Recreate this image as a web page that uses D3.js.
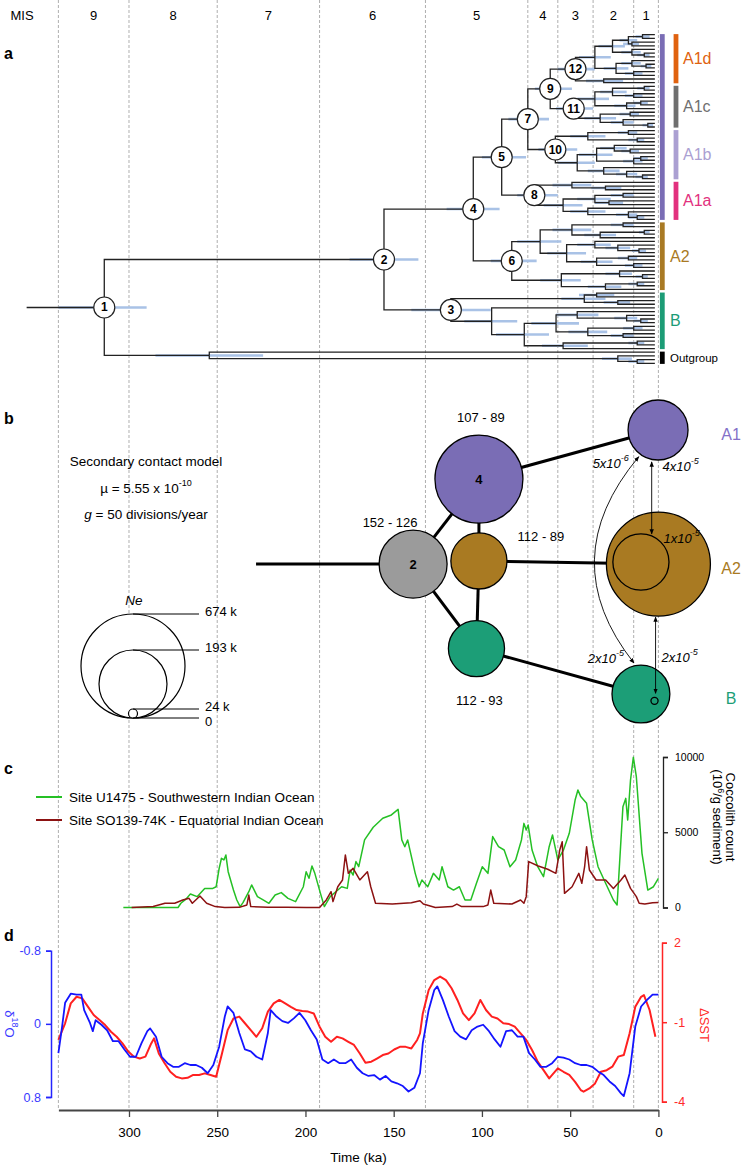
<!DOCTYPE html>
<html lang="en">
<head>
<meta charset="utf-8">
<title>Phylogeny, demography and Indian Ocean records</title>
<script src="https://d3js.org/d3.v7.min.js"></script>
<style>
  body, html { margin: 0; padding: 0; background: #fff; }
  svg text { font-family: "Liberation Sans", Arial, sans-serif; }
</style>
</head>
<body>
<script>
// ---------- data ----------
var misNames = ["9", "8", "7", "6", "5", "4", "3", "2", "1"]
var misBounds = [340, 300, 250, 192, 132, 74, 57, 37, 14, 0]

// dated tree, "t" = tip, (children)age[hpdOld-hpdYoung]#nodeNumber
var tipAge = 2
var rootAge = 358
var cladeA1d = "(((((t,t)9[13-5],(t,t)15[20-11])17[22-12],(t,(t,t)8[12-5])15[21-10])26[34-19],((t,(t,t)7[10-4])15[21-10],(t,t)14[19-9])24[31-17])36[45-27],(t,t)31[41-20])47[57-36]#12"
var cladeA1c = "((((t,t)8[12-5],(t,t)14[19-9])26[33-18],((t,t)10[14-6],t)18[25-13])36[46-28],((t,t)16[22-11],(t,(t,t)6[9-3])20[27-14])33[42-24])48[58-37]#11"
var cladeA1b = "(((t,t)17[23-12],(t,t)12[17-8])40[50-30],(((t,(t,t)16[21-11])25[33-18],((t,t)10[14-6],t)14[20-9])35[45-26],(t,(t,(t,t)9[13-6])18[24-12])31[40-22])46[57-36])58.4[68-46]#10"
var cladeA1a = "((t,(t,t)30[38-21])49[60-38],(((t,t)20[27-14],(t,t)28[36-20])36[46-27],(t,(t,(t,t)12[17-8])17[24-12])40[50-30])54[65-43])70.3[80-57]#8"
var cladeA2 = "((((t,t)20[27-14],((t,t)8[11-5],t)33[42-24])49[60-38],((t,(t,(t,t)11[15-7])23[30-16])36[46-27],((t,t)17[23-12],(t,t)14[19-9])35[44-26])52[63-41])67[80-55],((t,(t,t)9[13-6])22[30-15],((t,t)12[17-8],t)30[40-21])55[67-44])83.1[95-69]#6"
var cladeB = "(((t,t)35[45-25],(t,t)23[31-16])42[55-30],(t,(((t,(t,(t,t)10[14-6])18[25-12])46[58-34],((t,t)14[20-9],(t,t)20[27-14])40[51-29])58[72-45],((t,t)12[17-8],t)54[66-40])76[92-62])94.5[110-80])117.6[140-95]#3"
var cladeOut = "(t,(t,(t,t)12[17-8])23[32-15])254.5[285-224]"

var barNames = ["A1", "A1d", "A1c", "A1b", "A1a", "A2", "B", "Outgroup"]
var barCodes = ["dcba", "d", "c", "b", "a", "e", "f", "o"]
var barColumn = [0, 1, 1, 1, 1, 0, 0, 0]
var barColors = ["#7a6db5", "#e0620f", "#6f6f6f", "#aba0d2", "#e2317e", "#a97a24", "#1c9c76", "#000000"]

// panel b: populations
var popIds = ["p2", "p4", "pA2", "pB", "A1", "A2", "A2in", "B", "Bin"]
var popAge = [139, 101.7, 101.7, 103.1, 0.2, 0, 9.9, 9.9, 2.2]
var popRow = [0.508, 0.186, 0.496, 0.828, 0, 0.508, 0.5, 1, 1.026]
var popNe = [193, 460, 159, 159, 170, 674, 159, 164, 19]
var popFill = ["#9b9b9b", "#7a6db5", "#a97a22", "#1c9e77", "#7a6db5", "#a97a22", "none", "#1c9e77", "none"]
var popText = ["2", "4", "", "", "", "", "", "", ""]
var splitLabels = ["152 - 126", "107 - 89", "112 - 89", "112 - 93"]
var popLinks = [["p2", "p4"], ["p2", "pB"], ["p4", "pA2"], ["pA2", "pB"], ["pA2", "A2"], ["p4", "A1"], ["pB", "B"]]
var stemAge = 228
var neTicks = [674, 193, 24]
var neTickLabels = ["674 k", "193 k", "24 k"]

// panel c: coccolith counts (age ka, count 10^6/g)
var u1475 = [[303.2,0],[272.2,0],[270.6,280],[267.9,540],[265.2,900],[261.4,720],[257.1,1270],[252.5,1270],[250.6,1380],[248.9,2600],[247.6,3270],[246.2,3160],[245.1,3490],[243.8,2380],[240.8,1160],[238.9,500],[237,60],[235.4,320],[232.1,1050],[230.5,1500],[227.2,720],[224,500],[220.7,280],[217.2,830],[213.7,990],[209.9,610],[205.6,390],[201.2,1380],[199.6,2380],[198,1940],[196.3,2760],[194.7,2270],[191.5,940],[189.3,60],[186,720],[182.8,1050],[179.5,1380],[176.3,1270],[174.7,2490],[173,2160],[171.4,3050],[169.8,2710],[166.5,4490],[161.6,5330],[156.2,5930],[151.3,6150],[147.5,6520],[145.4,4490],[143.7,4040],[142.1,4490],[137.8,2270],[135.6,1380],[134,1830],[130.7,1380],[127.5,2270],[124.2,1830],[122.6,2710],[119.3,1380],[116.1,1160],[112.8,1380],[109.6,500],[106.3,500],[103.1,1610],[99.8,2710],[96.6,2270],[93.9,4710],[90.6,4040],[87.4,3820],[84.1,2710],[80.9,3160],[77.6,4490],[76.2,5590],[74.9,5150],[73.8,5480],[71.6,3820],[68.4,2710],[65.1,2050],[61.9,4040],[60,4820],[57,3160],[53.8,3820],[50.5,4930],[47.2,7140],[45.6,7810],[44,7370],[40.7,6920],[37.5,4490],[34.2,2710],[29.9,1610],[25.5,500],[23.4,170],[20.1,6700],[18.5,7250],[17.4,5810],[15.8,8470],[14.2,9980],[12.5,8690],[9.3,3600],[6,1160],[2.8,1380],[0,1940]]
var so139 = [[298.5,0],[286.3,60],[279.6,280],[274.1,280],[269.5,500],[266,610],[264.1,280],[259.8,760],[256,280],[251.1,60],[245.7,0],[237.5,10],[233.2,170],[232.1,830],[231,60],[221.3,10],[210.4,10],[199.6,0],[192,0],[188.2,500],[185.5,1050],[184.4,390],[181.7,1380],[179,1830],[177.4,3490],[175.7,2270],[173,2600],[169.2,1830],[164.9,2380],[163,1380],[160.3,280],[150.8,230],[140,320],[135.1,450],[133.2,230],[126.4,0],[116.9,60],[114.2,230],[111.5,60],[99.3,60],[96.6,170],[95,1160],[93.3,280],[83,230],[78.1,500],[76.2,280],[74.9,720],[73.5,3050],[68.1,2760],[62.7,2540],[58.1,2270],[55.9,3820],[54.5,4370],[53.2,940],[48.9,1380],[45.1,2270],[43.4,1610],[41.8,2710],[40.7,4040],[39.1,2490],[35.3,1830],[29.9,1830],[25.5,1270],[21.2,1830],[19,2160],[15.8,1270],[12.5,720],[10.9,280],[7.7,230],[3.3,320],[0,340]]

// panel d: benthic d18O anomaly and SST anomaly
var d18o = [[340,0.32],[337.9,0.03],[336.2,-0.23],[333,-0.33],[329.7,-0.32],[327,-0.32],[325.4,-0.15],[322.1,-0.01],[320.5,0.08],[318.9,-0.04],[315.6,0.01],[312.4,0.07],[309.1,0.19],[305.9,0.19],[302.6,0.28],[299.4,0.36],[296.1,0.36],[292.9,0.21],[289.6,0.08],[288,0.05],[284.7,0.14],[281.5,0.36],[278.2,0.43],[275,0.47],[271.7,0.47],[268.4,0.43],[265.2,0.45],[262,0.45],[258.7,0.48],[255.4,0.54],[252.2,0.45],[248.9,0.25],[245.7,-0.08],[244.1,-0.19],[240.8,-0.12],[237.5,0.1],[234.3,0.28],[231,0.3],[227.8,0.36],[224.5,0.39],[221.3,0.1],[219.7,-0.15],[216.4,-0.08],[213.1,-0.03],[209.9,-0.01],[206.6,-0.06],[203.4,-0.12],[200.1,-0.04],[196.9,0.07],[193.6,0.17],[190.4,0.39],[187.1,0.43],[183.9,0.39],[180.6,0.43],[177.4,0.43],[174.1,0.39],[170.9,0.48],[167.6,0.54],[164.3,0.57],[161.1,0.56],[157.8,0.61],[154.6,0.57],[151.3,0.63],[148.1,0.65],[144.8,0.68],[141.6,0.74],[138.3,0.7],[135.1,0.54],[133.5,0.21],[130.2,-0.15],[127,-0.37],[125.3,-0.41],[122.1,-0.26],[118.8,-0.08],[115.5,0.08],[112.3,0.14],[109,0.17],[105.8,0.07],[102.5,0.03],[99.3,0.01],[96,0.08],[92.8,0.17],[89.5,0.25],[86.3,0.08],[83,0.07],[79.8,0.14],[76.5,0.14],[73.3,0.32],[70,0.39],[66.8,0.47],[63.5,0.47],[60.2,0.43],[57,0.36],[53.8,0.37],[50.5,0.39],[47.2,0.43],[44,0.45],[40.7,0.45],[37.5,0.47],[34.2,0.52],[31,0.56],[27.7,0.63],[24.5,0.68],[21.2,0.76],[19.6,0.79],[16.3,0.54],[13.1,0.03],[9.8,-0.19],[6.6,-0.26],[3.3,-0.32],[0,-0.32]]
var dsst = [[340,-1.67],[336.2,-1.04],[333,-0.29],[329.7,-0.04],[326.5,-0.1],[323.2,-0.42],[320,-0.73],[316.7,-0.92],[313.5,-1.11],[310.2,-1.36],[307,-1.55],[303.7,-1.8],[300.4,-2.11],[297.2,-2.3],[293.9,-2.37],[290.7,-2.3],[287.4,-1.8],[285.8,-1.61],[283.1,-2.18],[279.8,-2.55],[276.6,-2.87],[273.3,-3.06],[270.1,-3.12],[266.8,-3.1],[263.6,-2.99],[260.3,-2.99],[257.1,-2.93],[253.8,-2.99],[250.6,-3.06],[247.3,-2.18],[244.1,-1.3],[240.8,-0.86],[237.5,-0.79],[234.3,-1.04],[231,-1.3],[227.8,-1.55],[224.5,-1.23],[221.3,-0.6],[218,-0.29],[214.8,-0.16],[211.5,-0.29],[208.3,-0.42],[205,-0.54],[201.8,-0.58],[198.5,-0.6],[195.3,-0.67],[192,-1.17],[188.8,-1.55],[185.5,-1.74],[182.2,-1.55],[179,-1.61],[175.7,-1.74],[172.5,-1.86],[169.2,-2.18],[166,-2.53],[162.7,-2.49],[159.5,-2.37],[156.2,-2.24],[153,-2.18],[149.7,-2.03],[146.5,-1.93],[143.2,-1.93],[140,-1.99],[136.7,-1.67],[135.1,-1.42],[133.5,-0.67],[130.2,0.21],[127,0.59],[123.7,0.72],[120.4,0.59],[117.2,0.28],[113.9,-0.16],[110.7,-0.67],[107.4,-0.92],[104.2,-0.67],[100.9,-0.16],[97.7,-0.54],[94.4,-0.79],[91.2,-0.86],[87.9,-1.04],[84.6,-1.07],[81.4,-1.17],[78.1,-1.42],[74.9,-1.67],[71.6,-2.05],[68.4,-2.49],[65.1,-2.81],[61.9,-3.12],[60.2,-2.99],[57,-2.74],[53.8,-2.87],[50.5,-2.99],[47.2,-3.25],[44,-3.56],[42.4,-3.62],[39.1,-3.5],[35.9,-3.31],[32.6,-2.87],[29.3,-2.81],[26.1,-2.68],[22.8,-2.3],[19.6,-2.24],[16.3,-1.42],[13.1,-0.42],[9.8,-0.04],[8.2,0.02],[5,-0.54],[1.7,-1.55]]

var timeTicks = [300, 250, 200, 150, 100, 50, 0]

// ---------- drawing ----------
var svg = d3.select("body").append("svg")
	.attr("width", 746)
	.attr("height", 1166)

var x = d3.scaleLinear().domain([340, 0]).range([58.4, 658.4])

// MIS boundaries
svg.selectAll("line.mis")
	.data(misBounds)
	.enter().append("line")
	.attr("class", "mis")
	.attr("x1", d => x(d)).attr("x2", d => x(d))
	.attr("y1", 0).attr("y2", 1110)
	.attr("stroke", "#9a9a9a")
	.attr("stroke-width", 0.8)
	.attr("stroke-dasharray", "3,2")

svg.append("text").text("MIS")
	.attr("x", 22).attr("y", 15)
	.attr("text-anchor", "middle").attr("dominant-baseline", "central")
	.attr("font-size", 13)
misNames.forEach((m, i) => {
	svg.append("text").text(m)
		.attr("x", (x(misBounds[i]) + x(misBounds[i + 1])) / 2)
		.attr("y", 15)
		.attr("text-anchor", "middle").attr("dominant-baseline", "central")
		.attr("font-size", 13)
})

// panel letters
var panels = [["a", 53], ["b", 418], ["c", 768], ["d", 935]]
panels.forEach(p => {
	svg.append("text").text(p[0])
		.attr("x", 4).attr("y", p[1])
		.attr("dominant-baseline", "central")
		.attr("font-size", 16).attr("font-weight", "bold")
})

// ---------- panel a: tree ----------
var parseTree = function (s) {
	var i = 0
	var node = function () {
		var n = {}
		if (s[i] === "(") {
			i++
			n.children = [node()]
			while (s[i] === ",") { i++; n.children.push(node()) }
			i++
			var m = /^([\d.]+)(?:\[([\d.]+)-([\d.]+)\])?(?:#(\d+))?/.exec(s.slice(i))
			i += m[0].length
			n.age = +m[1]
			if (m[2]) n.hpd = [+m[2], +m[3]]
			if (m[4]) n.label = m[4]
		} else {
			n.code = s[i]
			n.age = tipAge
			i++
		}
		return n
	}
	return node()
}

var treeString = "((((((" + cladeA1d.replace(/t/g, "d") + "," + cladeA1c.replace(/t/g, "c") + ")61.3[70-49]#9,"
	+ cladeA1b.replace(/t/g, "b") + ")74[85-62]#7," + cladeA1a.replace(/t/g, "a") + ")88.8[100-75]#5,"
	+ cladeA2.replace(/t/g, "e") + ")104.9[120-90]#4," + cladeB.replace(/t/g, "f") + ")155.5[175-136]#2,"
	+ cladeOut.replace(/t/g, "o") + ")314[340-290]#1"

var root = d3.hierarchy(parseTree(treeString))
var leaves = root.leaves()
var tipY = d3.scaleLinear().domain([0, leaves.length - 1]).range([34.7, 363.3])
leaves.forEach((d, i) => { d.py = tipY(i) })
root.eachAfter(d => {
	if (d.children) d.py = (d.children[0].py + d.children[d.children.length - 1].py) / 2
	d.px = x(d.data.age)
})

var tree = svg.append("g")

tree.selectAll("line.hpd")
	.data(root.descendants().filter(d => d.data.hpd))
	.enter().append("line")
	.attr("class", "hpd")
	.attr("x1", d => x(d.data.hpd[0])).attr("x2", d => x(d.data.hpd[1]))
	.attr("y1", d => d.py).attr("y2", d => d.py)
	.attr("stroke", "#a9c2e6")
	.attr("stroke-width", 2.6)

tree.append("line")
	.attr("x1", x(rootAge)).attr("x2", root.px)
	.attr("y1", root.py).attr("y2", root.py)
	.attr("stroke", "#222").attr("stroke-width", 1.3)

tree.selectAll("path.branch")
	.data(root.links())
	.enter().append("path")
	.attr("class", "branch")
	.attr("d", l => "M" + l.source.px + "," + l.source.py + "V" + l.target.py + "H" + l.target.px)
	.attr("fill", "none")
	.attr("stroke", "#222")
	.attr("stroke-width", 1.3)

var numbered = tree.selectAll("g.node")
	.data(root.descendants().filter(d => d.data.label))
	.enter().append("g")
	.attr("class", "node")
	.attr("transform", d => "translate(" + d.px + "," + d.py + ")")
numbered.append("circle")
	.attr("r", 10.5)
	.attr("fill", "#fff").attr("stroke", "#222").attr("stroke-width", 1.2)
numbered.append("text")
	.text(d => d.data.label)
	.attr("text-anchor", "middle").attr("dominant-baseline", "central")
	.attr("font-size", 12).attr("font-weight", "bold")

// clade bars
var barX = [662.3, 676]
barNames.forEach((name, i) => {
	var ys = leaves.filter(d => barCodes[i].indexOf(d.data.code) >= 0).map(d => d.py)
	var y0 = d3.min(ys) - 0.6, y1 = d3.max(ys) + 0.6
	svg.append("rect")
		.attr("x", barX[barColumn[i]] - 2.4).attr("width", 4.8)
		.attr("y", y0).attr("height", y1 - y0)
		.attr("fill", barColors[i])
	if (name === "A1") return
	var lx = barColumn[i] === 1 ? 683 : 670
	svg.append("text").text(name)
		.attr("x", lx).attr("y", (y0 + y1) / 2)
		.attr("dominant-baseline", "central")
		.attr("font-size", name === "Outgroup" ? 11.5 : 16)
		.attr("fill", barColors[i])
})

// ---------- panel b: demographic model ----------
var rowY = d3.scaleLinear().domain([0, 1]).range([430, 694])
var neR = d3.scaleLinear().domain([0, 24, 193, 674]).range([0, 4.5, 34, 52])
var pops = {}
popIds.forEach((id, i) => {
	pops[id] = { cx: x(popAge[i]), cy: rowY(popRow[i]), r: neR(popNe[i]), fill: popFill[i], text: popText[i] }
})

var gb = svg.append("g")
gb.append("line")
	.attr("x1", x(stemAge)).attr("x2", pops.p2.cx)
	.attr("y1", pops.p2.cy).attr("y2", pops.p2.cy)
	.attr("stroke", "#000").attr("stroke-width", 3)
popLinks.forEach(l => {
	gb.append("line")
		.attr("x1", pops[l[0]].cx).attr("y1", pops[l[0]].cy)
		.attr("x2", pops[l[1]].cx).attr("y2", pops[l[1]].cy)
		.attr("stroke", "#000").attr("stroke-width", 3)
})
popIds.forEach(id => {
	var p = pops[id]
	gb.append("circle")
		.attr("cx", p.cx).attr("cy", p.cy).attr("r", p.r)
		.attr("fill", p.fill).attr("stroke", "#000").attr("stroke-width", 1.3)
	if (p.text) {
		gb.append("text").text(p.text)
			.attr("x", p.cx).attr("y", p.cy)
			.attr("text-anchor", "middle").attr("dominant-baseline", "central")
			.attr("font-size", 13).attr("font-weight", "bold")
	}
})

// divergence time labels
var splitPos = [
	[pops.p2.cx - 23, pops.p2.cy - pops.p2.r - 8],
	[pops.p4.cx + 2, pops.p4.cy - pops.p4.r - 18],
	[pops.pA2.cx + 62, pops.pA2.cy - 24],
	[pops.pB.cx + 3, pops.pB.cy + pops.pB.r + 24]
]
splitLabels.forEach((t, i) => {
	gb.append("text").text(t)
		.attr("x", splitPos[i][0]).attr("y", splitPos[i][1])
		.attr("text-anchor", "middle").attr("dominant-baseline", "central")
		.attr("font-size", 13)
})

// population names
var popNames = [["A1", "A1", "#8470c8"], ["A2", "A2", "#a97a22"], ["B", "B", "#1c9e77"]]
popNames.forEach(p => {
	gb.append("text").text(p[1])
		.attr("x", 731).attr("y", pops[p[0]].cy + 4)
		.attr("text-anchor", "middle").attr("dominant-baseline", "central")
		.attr("font-size", 16).attr("fill", p[2])
})

// migration arrows
var defs = svg.append("defs")
defs.append("marker")
	.attr("id", "arr")
	.attr("viewBox", "0 0 8 8")
	.attr("refX", 7).attr("refY", 4)
	.attr("markerWidth", 6).attr("markerHeight", 6)
	.attr("orient", "auto-start-reverse")
	.append("path").attr("d", "M0,0.8L8,4L0,7.2Z").attr("fill", "#000")

var ax1 = x(3.8)
var a1y1 = pops.A1.cy + pops.A1.r + 2, a1y2 = pops.A2in.cy - pops.A2in.r
var ax2 = x(1.6)
var a2y1 = pops.A2.cy + pops.A2.r + 1, a2y2 = pops.Bin.cy - pops.Bin.r - 4
var cs = [pops.A1.cx - 19.3, pops.A1.cy + 26.7]
var ce = [pops.B.cx - 7, pops.B.cy - 31]
var arrows = [
	"M" + ax1 + "," + a1y1 + "V" + a1y2,
	"M" + ax2 + "," + a2y1 + "V" + a2y2,
	"M" + cs[0] + "," + cs[1] + "Q" + (x(60)) + "," + ((cs[1] + ce[1]) / 2) + " " + ce[0] + "," + ce[1]
]
arrows.forEach(d => {
	gb.append("path").attr("d", d)
		.attr("fill", "none").attr("stroke", "#000").attr("stroke-width", 0.9)
		.attr("marker-start", "url(#arr)").attr("marker-end", "url(#arr)")
})

var migRates = ["4x10", "1x10", "2x10", "5x10", "2x10"]
var migExps = ["-5", "-5", "-5", "-6", "-5"]
var migPos = [
	[ax1 + 29, a1y1 + 4],
	[ax1 + 30, a1y2 + 4],
	[ax2 + 24, (a2y1 + a2y2) / 2 + 2],
	[cs[0] - 28, cs[1] + 6],
	[ce[0] - 28, ce[1] - 5]
]
migRates.forEach((r, i) => {
	var t = gb.append("text")
		.attr("x", migPos[i][0]).attr("y", migPos[i][1])
		.attr("text-anchor", "middle").attr("dominant-baseline", "central")
		.attr("font-size", 13).attr("font-style", "italic")
	t.append("tspan").text(r)
	t.append("tspan").text(migExps[i]).attr("font-size", 9).attr("dy", -5)
})

// model text
var tx = 146
var t1 = gb.append("text").text("Secondary contact model")
	.attr("x", tx).attr("y", 461).attr("text-anchor", "middle").attr("dominant-baseline", "central").attr("font-size", 13.5)
var t2 = gb.append("text").attr("x", tx).attr("y", 488).attr("text-anchor", "middle").attr("dominant-baseline", "central").attr("font-size", 13.5)
t2.append("tspan").text("\u00b5 = 5.55 x 10")
t2.append("tspan").text("-10").attr("font-size", 9).attr("dy", -5)
var t3 = gb.append("text").attr("x", tx).attr("y", 514).attr("text-anchor", "middle").attr("dominant-baseline", "central").attr("font-size", 13.5)
t3.append("tspan").text("g").attr("font-style", "italic")
t3.append("tspan").text(" = 50 divisions/year")

// Ne legend
var neX = 133, neBase = 718
gb.append("text").text("Ne")
	.attr("x", neX + 1).attr("y", neBase - 2 * neR(neTicks[0]) - 14)
	.attr("text-anchor", "middle").attr("dominant-baseline", "central")
	.attr("font-size", 13.5).attr("font-style", "italic")
neTicks.forEach((n, i) => {
	var r = neR(n)
	gb.append("circle")
		.attr("cx", neX).attr("cy", neBase - r).attr("r", r)
		.attr("fill", "#fff").attr("stroke", "#000").attr("stroke-width", 1.2)
})
neTicks.concat([0]).forEach((n, i) => {
	var ly = neBase - 2 * neR(n)
	gb.append("line")
		.attr("x1", neX).attr("x2", 199)
		.attr("y1", ly).attr("y2", ly)
		.attr("stroke", "#000").attr("stroke-width", 1)
	gb.append("text").text(i < neTicks.length ? neTickLabels[i] : "0")
		.attr("x", 205).attr("y", ly - 3 + (i === 3 ? 6 : 0))
		.attr("dominant-baseline", "central")
		.attr("font-size", 13)
})

// ---------- panel c: coccoliths ----------
var cy = d3.scaleLinear().domain([0, 10000]).range([907.5, 757])
var cLine = d3.line().x(d => x(d[0])).y(d => cy(d[1]))
svg.append("path").attr("d", cLine(u1475))
	.attr("fill", "none").attr("stroke", "#25c025").attr("stroke-width", 1.5).attr("stroke-linejoin", "round")
svg.append("path").attr("d", cLine(so139))
	.attr("fill", "none").attr("stroke", "#8c1212").attr("stroke-width", 1.5).attr("stroke-linejoin", "round")

var cAxis = svg.append("g")
	.attr("transform", "translate(663,0)")
	.call(d3.axisRight(cy).tickValues([0, 5000, 10000]).tickFormat(d => String(d)).tickSize(5).tickPadding(7))
cAxis.selectAll("text").attr("font-size", 10.5).attr("font-family", "Liberation Sans, Arial, sans-serif")
cAxis.selectAll("path, line").attr("stroke", "#222").attr("stroke-width", 1.3)

var ct = svg.append("text")
	.attr("transform", "translate(726,817) rotate(90)")
	.attr("text-anchor", "middle").attr("font-size", 13)
ct.append("tspan").text("Coccolith count").attr("x", 0).attr("dy", 0)
var ct2 = ct.append("tspan").attr("x", 0).attr("dy", 13)
ct2.append("tspan").text("(10")
ct2.append("tspan").text("6").attr("font-size", 9).attr("dy", -5)
ct2.append("tspan").text("/g sediment)").attr("dy", 5)

var legendC = [["Site U1475 - Southwestern Indian Ocean", "#25c025", 797], ["Site SO139-74K - Equatorial Indian Ocean", "#8c1212", 820]]
legendC.forEach(l => {
	svg.append("line").attr("x1", 36).attr("x2", 62).attr("y1", l[2]).attr("y2", l[2])
		.attr("stroke", l[1]).attr("stroke-width", 2)
	svg.append("text").text(l[0]).attr("x", 69).attr("y", l[2])
		.attr("dominant-baseline", "central").attr("font-size", 13.5)
})

// ---------- panel d: d18O and SST ----------
var oy = d3.scaleLinear().domain([-0.8, 0.8]).range([950.7, 1097])
var sy = d3.scaleLinear().domain([2, -4]).range([942.7, 1101.7])
svg.append("path").attr("d", d3.line().x(d => x(d[0])).y(d => sy(d[1]))(dsst))
	.attr("fill", "none").attr("stroke", "#ff2020").attr("stroke-width", 2).attr("stroke-linejoin", "round")
svg.append("path").attr("d", d3.line().x(d => x(d[0])).y(d => oy(d[1]))(d18o))
	.attr("fill", "none").attr("stroke", "#1414ff").attr("stroke-width", 1.8).attr("stroke-linejoin", "round")

var oAxis = svg.append("g")
	.attr("transform", "translate(51,0)")
	.call(d3.axisLeft(oy).tickValues([-0.8, 0, 0.8]).tickFormat(d => String(d)).tickSize(5).tickPadding(5))
oAxis.selectAll("text").attr("font-size", 12.5).attr("fill", "#3a3aff").attr("font-family", "Liberation Sans, Arial, sans-serif")
oAxis.selectAll("path, line").attr("stroke", "#2525ff").attr("stroke-width", 1.5)

var ol = svg.append("text")
	.attr("transform", "translate(10,1024) rotate(90)")
	.attr("text-anchor", "middle").attr("dominant-baseline", "central")
	.attr("font-size", 13).attr("fill", "#3a3aff")
ol.append("tspan").text("\u03b4")
ol.append("tspan").text("18").attr("font-size", 9).attr("dy", -5)
ol.append("tspan").text("O").attr("dy", 5)

var sAxis = svg.append("g")
	.attr("transform", "translate(662,0)")
	.call(d3.axisRight(sy).tickValues([2, -1, -4]).tickFormat(d => String(d)).tickSize(5).tickPadding(7))
sAxis.selectAll("text").attr("font-size", 12.5).attr("fill", "#ff2a2a").attr("font-family", "Liberation Sans, Arial, sans-serif")
sAxis.selectAll("path, line").attr("stroke", "#ff2525").attr("stroke-width", 1.5)

svg.append("text").text("\u0394SST")
	.attr("transform", "translate(704,1025) rotate(90)")
	.attr("text-anchor", "middle").attr("dominant-baseline", "central")
	.attr("font-size", 13).attr("fill", "#ff2a2a")

// time axis
var tAxis = svg.append("g")
	.attr("transform", "translate(0,1110)")
	.call(d3.axisBottom(x).tickValues(timeTicks).tickSize(7).tickSizeOuter(0).tickPadding(10))
tAxis.selectAll("text").attr("font-size", 13.5).attr("font-family", "Liberation Sans, Arial, sans-serif")
tAxis.select(".domain").attr("stroke", "#444").attr("stroke-width", 2)
tAxis.selectAll(".tick line").attr("stroke", "#444").attr("stroke-width", 1.3)

svg.append("text").text("Time (ka)")
	.attr("x", x(170)).attr("y", 1157)
	.attr("text-anchor", "middle").attr("dominant-baseline", "central")
	.attr("font-size", 13.5)
</script>
</body>
</html>
